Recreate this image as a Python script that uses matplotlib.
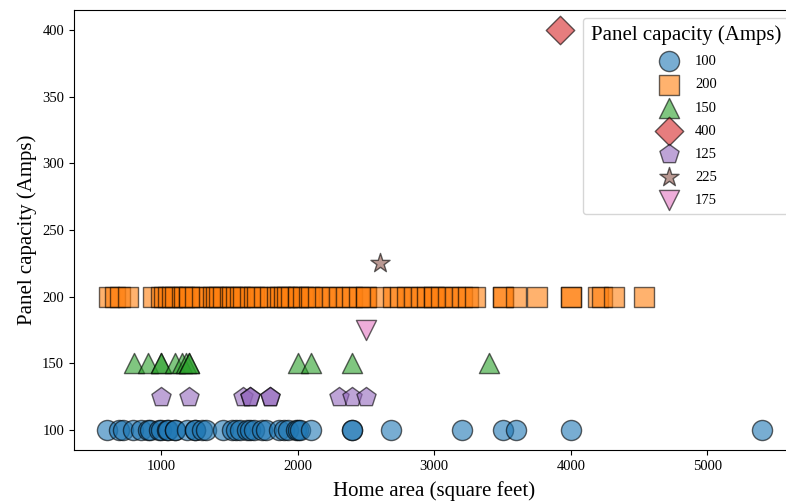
import matplotlib
matplotlib.use("Agg")
import matplotlib.pyplot as plt

plt.rcParams['font.family'] = ['Liberation Serif', 'DejaVu Serif']

# home area (sq ft) per panel capacity group
area_100 = [600, 690, 720, 790, 850, 900, 920, 980, 1000, 1040, 1050, 1100, 1100,
            1190, 1250, 1250, 1300, 1330, 1450, 1520, 1550, 1580, 1630, 1650, 1680,
            1740, 1770, 1860, 1900, 1930, 1990, 2000, 2020, 2100, 2400, 2400, 2680,
            3200, 3500, 3600, 4000, 5400]
area_200 = [620, 660, 700, 760, 940, 1000, 1020, 1050, 1080, 1100, 1150, 1170, 1200,
            1200, 1250, 1300, 1350, 1380, 1400, 1420, 1450, 1500, 1520, 1550, 1580,
            1600, 1650, 1680, 1700, 1750, 1800, 1850, 1870, 1900, 1920, 1950, 2000,
            2000, 2040, 2080, 2100, 2150, 2200, 2250, 2300, 2350, 2400, 2450, 2500,
            2500, 2600, 2700, 2750, 2800, 2850, 2900, 2950, 3000, 3000, 3050, 3100,
            3150, 3200, 3250, 3300, 3500, 3500, 3600, 3750, 4000, 4000, 4200, 4230,
            4320, 4540]
area_150 = [800, 900, 1000, 1000, 1100, 1150, 1180, 1200, 1200, 2000, 2100, 2400, 3400]
area_400 = [3920]
area_125 = [1000, 1200, 1600, 1650, 1650, 1800, 1800, 2300, 2400, 2500]
area_225 = [2600]
area_175 = [2500]

capacities = ['100', '200', '150', '400', '125', '225', '175']
areas = [area_100, area_200, area_150, area_400, area_125, area_225, area_175]
markers = ['o', 's', '^', 'D', 'p', '*', 'v']
colors = ['tab:blue', 'tab:orange', 'tab:green', 'tab:red', 'tab:purple',
          'tab:brown', 'tab:pink']

fig = plt.figure(figsize=(7.86, 5.04), dpi=100)
ax = fig.add_axes([0.094, 0.107, 0.917, 0.873])

for cap, xs, m, c in zip(capacities, areas, markers, colors):
    ax.scatter(xs, [int(cap)] * len(xs), s=210, marker=m, color=c, alpha=0.6,
               edgecolor='black', linewidth=1, label=cap)

ax.set_xticks([1000, 2000, 3000, 4000, 5000])
ax.set_yticks([100, 150, 200, 250, 300, 350, 400])
ax.tick_params(labelsize=10.5)
ax.set_xlabel('Home area (square feet)', fontsize=15, labelpad=6)
ax.set_ylabel('Panel capacity (Amps)', fontsize=15)

leg = ax.legend(title='Panel capacity (Amps)', loc='upper left',
                bbox_to_anchor=(0.742, 0.964), bbox_transform=fig.transFigure,
                borderaxespad=0, borderpad=0.5, fontsize=10.5, title_fontsize=15,
                labelspacing=0.68)

fig.savefig('out.png', dpi=100)
